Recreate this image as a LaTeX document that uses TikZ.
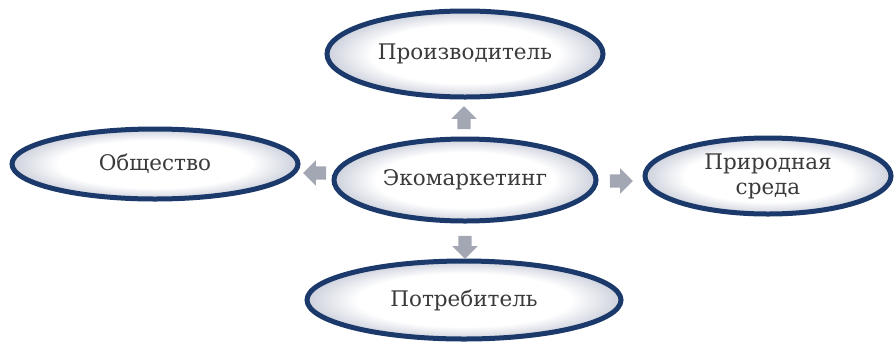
\documentclass[tikz,border=0pt]{standalone}
\usepackage{fontspec}
\newfontfamily\ellfont{DejaVu Serif}
\usetikzlibrary{shapes.geometric,shapes.arrows}
\definecolor{rim}{HTML}{1B3A6B}
\definecolor{edgeshade}{HTML}{CDD1DC}
\definecolor{txt}{HTML}{3A3A3A}
\definecolor{arr}{HTML}{A3A7B3}
\pgfdeclareradialshading{ellshade}{\pgfpoint{0bp}{0bp}}{color(0bp)=(white); color(17bp)=(white); color(25bp)=(edgeshade); color(50bp)=(edgeshade)}
\tikzset{
  ell/.style={ellipse, draw=rim, line width=5pt, shading=ellshade, inner sep=0pt,
    font=\ellfont\fontsize{21.5}{25}\selectfont, text=txt, align=center},
  blockarrow/.style={single arrow, fill=arr, draw=none, inner sep=6.5pt,
    minimum height=23pt, single arrow head extend=6pt, single arrow head indent=0pt}
}
\begin{document}
\begin{tikzpicture}[x=1pt,y=-1pt]
\useasboundingbox (0,0) rectangle (896,346);
\node[ell, minimum width=276pt, minimum height=86pt] (prod) at (465,54) {Производитель};
\node[ell, minimum width=262pt, minimum height=82pt] (eco) at (465,180) {Экомаркетинг};
\node[ell, minimum width=286pt, minimum height=70pt] (soc) at (155,164) {Общество};
\node[ell, minimum width=246pt, minimum height=76pt] (nat) at (768,176) {Природная\\среда};
\node[ell, minimum width=314pt, minimum height=78pt] (cons) at (464,300) {Потребитель};
\node[blockarrow, rotate=90] (aup) at (464,121) {};
\node[blockarrow, rotate=180] (aleft) at (318,173) {};
\node[blockarrow] (aright) at (618,181) {};
\node[blockarrow, rotate=-90] (adown) at (465,244) {};
\end{tikzpicture}
\end{document}
